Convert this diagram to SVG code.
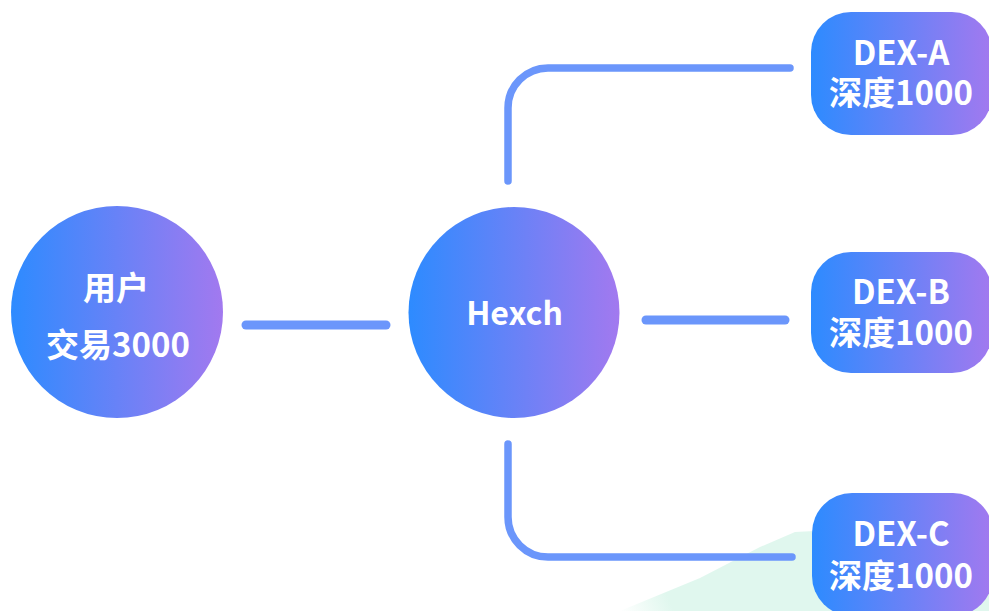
<svg xmlns="http://www.w3.org/2000/svg" width="989" height="611" viewBox="0 0 989 611">
<defs>
<linearGradient id="g" x1="0" y1="0" x2="1" y2="0">
<stop offset="0" stop-color="#2d8bff"/>
<stop offset="1" stop-color="#a279ef"/>
</linearGradient>
<linearGradient id="mint" x1="620" y1="611" x2="800" y2="530" gradientUnits="userSpaceOnUse">
<stop offset="0" stop-color="#e0f7ee" stop-opacity="0"/>
<stop offset="0.25" stop-color="#e0f7ee" stop-opacity="1"/>
<stop offset="1" stop-color="#e0f7ee"/>
</linearGradient>
<style>
.node{fill:url(#g)}
.t{fill:#ffffff;font-family:"Noto Sans CJK SC","Noto Sans",sans-serif;font-weight:bold;text-anchor:middle}
.c{fill:none;stroke:#6b96fb;stroke-width:7.5;stroke-linecap:round}
</style>
</defs>
<rect width="989" height="611" fill="#ffffff"/>
<path d="M620 611 L700 578 L760 547 L795 532 L989 522 L989 611 Z" fill="url(#mint)"/>
<g id="connectors">
<path class="c" d="M508 181 V108 A40 40 0 0 1 548 68 H790"/>
<path class="c" d="M246 325 H386" style="stroke-width:9"/>
<path class="c" d="M646 320 H785" style="stroke-width:9"/>
<path class="c" d="M508 444 V517 A40 40 0 0 0 548 557 H792"/>
</g>
<g id="user">
<circle class="node" cx="117" cy="312" r="106"/>
<text class="t" x="116" y="300" font-size="33">用户</text>
<text class="t" x="118" y="357" font-size="33">交易3000</text>
</g>
<g id="hexch">
<circle class="node" cx="514" cy="312.5" r="105.5"/>
<text class="t" x="514.5" y="325" font-size="32">Hexch</text>
</g>
<g id="dex-a">
<rect class="node" x="811" y="12" width="181" height="123" rx="40"/>
<text class="t" x="901" y="65" font-size="33">DEX-A</text>
<text class="t" x="901" y="105" font-size="33">深度1000</text>
</g>
<g id="dex-b">
<rect class="node" x="811" y="252" width="181" height="121" rx="40"/>
<text class="t" x="901" y="304" font-size="33">DEX-B</text>
<text class="t" x="901" y="345" font-size="33">深度1000</text>
</g>
<g id="dex-c">
<rect class="node" x="812" y="493" width="181" height="123" rx="40"/>
<text class="t" x="901" y="546" font-size="33">DEX-C</text>
<text class="t" x="901" y="588" font-size="33">深度1000</text>
</g>
</svg>
